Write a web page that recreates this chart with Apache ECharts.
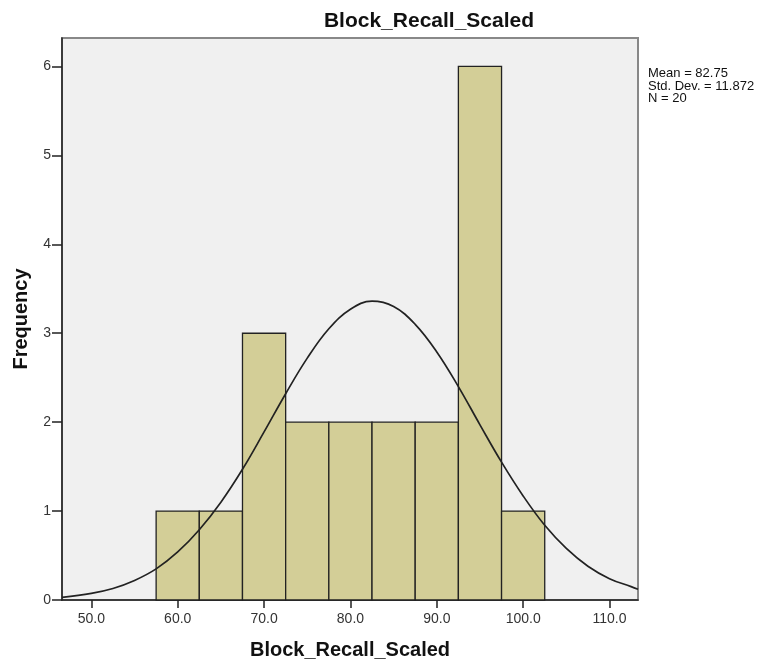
<!DOCTYPE html>
<html>
<head>
<meta charset="utf-8">
<script src="https://cdn.jsdelivr.net/npm/echarts@6/dist/echarts.min.js"></script>
<style>
  html, body { margin: 0; padding: 0; background: #fff; }
  #chart { width: 773px; height: 669px; }
</style>
</head>
<body>
<div id="chart"></div>
<script>
// histogram bins (width 5) and their counts
var binStarts = [57.5, 62.5, 67.5, 72.5, 77.5, 82.5, 87.5, 92.5, 97.5];
var binWidth = 5;
var counts = [1, 1, 3, 2, 2, 2, 2, 6, 1];

// fitted normal curve
var curveX = [46.6, 50, 52.5, 55, 57.5, 60, 62.5, 65, 67.5, 70, 72.5, 75, 77.5, 80, 82.5, 85, 87.5, 90, 92.5, 95, 97.5, 100, 102.5, 105, 107.5, 110, 112.5, 113.3];
var curveY = [0.03, 0.075, 0.13, 0.22, 0.35, 0.54, 0.79, 1.10, 1.47, 1.89, 2.32, 2.72, 3.05, 3.27, 3.36, 3.30, 3.10, 2.79, 2.40, 1.97, 1.55, 1.17, 0.84, 0.58, 0.38, 0.24, 0.15, 0.12];

var xTicks = [50, 60, 70, 80, 90, 100, 110];
var yTicks = [0, 1, 2, 3, 4, 5, 6];
var statLines = ['Mean = 82.75', 'Std. Dev. = 11.872', 'N = 20'];

var chart = echarts.init(document.getElementById('chart'));

var barData = binStarts.map(function (s, i) { return [s, s + binWidth, counts[i]]; });
var curveData = curveX.map(function (x, i) { return [x, curveY[i]]; });

var font = 'Liberation Sans, Arial, sans-serif';

var option = {
  animation: false,
  backgroundColor: '#fff',
  textStyle: { fontFamily: font },
  title: {
    text: 'Block_Recall_Scaled',
    left: 424, top: 6, textAlign: 'center',
    textStyle: { fontSize: 21, fontWeight: 'bold', color: '#111', fontFamily: font }
  },
  graphic: [{
    type: 'text', left: 648, top: 67,
    style: { text: statLines.join('\n'), font: '13px ' + font, fill: '#111', lineHeight: 12.5 }
  }],
  grid: {
    left: 62, right: 135, top: 38, bottom: 69,
    show: true, backgroundColor: '#f0f0f0', borderColor: '#888', borderWidth: 2
  },
  xAxis: {
    type: 'value', min: 46.6, max: 113.3,
    name: 'Block_Recall_Scaled', nameLocation: 'middle', nameGap: 40,
    nameTextStyle: { fontSize: 20, fontWeight: 'bold', color: '#111' },
    axisLine: { show: true, onZero: false, lineStyle: { color: '#222', width: 1.5 } },
    axisTick: { show: true, customValues: xTicks, length: 8, lineStyle: { color: '#222', width: 1.5 } },
    axisLabel: { customValues: xTicks, fontSize: 14, color: '#333', margin: 12, formatter: function (v) { return v.toFixed(1); } },
    splitLine: { show: false }
  },
  yAxis: {
    type: 'value', min: 0, max: 6.32,
    name: 'Frequency', nameLocation: 'middle', nameGap: 31,
    nameTextStyle: { fontSize: 20, fontWeight: 'bold', color: '#111' },
    axisLine: { show: true, lineStyle: { color: '#222', width: 1.5 } },
    axisTick: { show: true, customValues: yTicks, length: 10, lineStyle: { color: '#222', width: 1.5 } },
    axisLabel: { customValues: yTicks, fontSize: 14, color: '#333', margin: 11 },
    splitLine: { show: false }
  },
  series: [
    {
      type: 'custom',
      data: barData,
      encode: { x: [0, 1], y: 2 },
      renderItem: function (params, api) {
        var p0 = api.coord([api.value(0), 0]);
        var p1 = api.coord([api.value(1), api.value(2)]);
        return {
          type: 'rect',
          shape: { x: p0[0], y: p1[1], width: p1[0] - p0[0], height: p0[1] - p1[1] },
          style: { fill: '#d3ce97', stroke: '#222', lineWidth: 1.3 }
        };
      }
    },
    {
      type: 'line',
      data: curveData,
      smooth: 0.4,
      symbol: 'none',
      lineStyle: { color: '#222', width: 1.7 },
      z: 5
    }
  ]
};

chart.setOption(option);
</script>
</body>
</html>
